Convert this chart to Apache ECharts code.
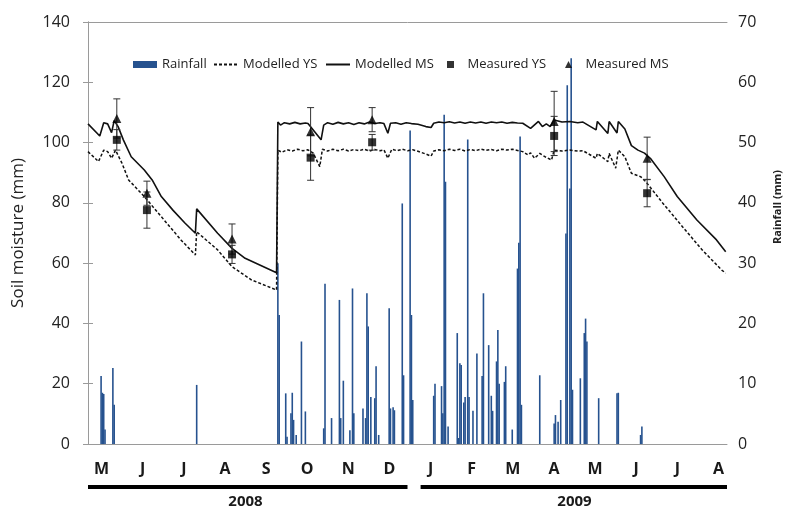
<!DOCTYPE html>
<html>
<head>
<meta charset="utf-8">
<script src="https://cdn.jsdelivr.net/npm/echarts@6/dist/echarts.min.js"></script>
<style>
html,body{margin:0;padding:0;background:#fff;}
#c{width:791px;height:509px;}
</style>
</head>
<body>
<div id="c"></div>
<script>
// ---------- DATA (day index 0 = start of May 2008) ----------
const months = ['M','J','J','A','S','O','N','D','J','F','M','A','M','J','J','A'];
const years = ['2008','2009'];
const yearSpans = [[0, 244], [254, 488]];
const seriesNames = ['Rainfall', 'Modelled YS', 'Modelled MS', 'Measured YS', 'Measured MS'];

const rainDays = [10,11,12,13,19,20,83,
  145,146,151,152,155,156,157,159,163,166,
  180,181,186,192,193,195,200,202,203,
  210,212,213,214,216,219,220,222,
  230,231,233,234,240,241,246,247,248,
  264,265,270,271,272,273,275,
  282,283,284,285,287,288,290,291,294,297,
  301,302,306,308,309,312,313,314,318,319,324,
  328,329,330,331,345,
  356,357,359,361,365,366,368,369,370,
  376,379,380,381,390,404,405,422,423];
const rainMm = [11.3,8.5,8.3,2.4,12.6,6.5,9.8,
  30,21.4,8.4,1.2,5.1,8.5,4,1.5,17,5.4,
  2.6,26.6,4.3,23.9,4.3,10.5,2.3,25.8,5.1,
  5.9,4.3,25,19.5,7.8,7.6,12.9,1.5,
  22.5,5.9,6.1,5.6,39.9,11.4,52,21.4,7.3,
  8,10,9.6,5.1,54.6,43.5,2.9,
  18.4,1,13.4,13.1,6.9,7.8,50.5,7.8,5.5,15,
  11.3,25,16.4,8,5.5,13.7,18.9,10,10.3,12.9,2.4,
  29.1,33.4,51,6.5,11.4,
  3.4,4.8,3.7,7.3,34.9,59.5,42.4,64,9,
  10.9,18.4,20.8,17,7.6,8.4,8.5,1.5,2.9];

const msDays = [0,9,12,15,18,20,23,27,33,43,49,56,65,74,82,83,99,110,120,144,145,
  147,150,154,158,162,166,168,178,180,183,187,191,195,199,203,207,211,215,219,223,226,229,231,235,239,243,247,252,258,262,264,268,272,276,280,284,288,292,296,300,304,308,312,316,320,324,328,332,338,344,347,350,353,356,362,368,374,378,388,389,397,398,404,405,410,415,420,425,430,440,450,465,480,487];
const msVals = [106.2,102.2,106.6,106.2,103.3,107.3,105.3,100.9,95.3,90.9,87.6,82.1,77.5,73.3,69.9,78,69.9,64.9,61.6,56.8,106.8,
  105.8,106.6,106.2,106.7,106.2,106.5,106.3,100.9,105.8,106.6,106.1,106.7,106.2,106.6,106,106.6,106.2,106.8,106.3,106.6,106.3,103.1,106.4,106.6,106.1,106.6,106.3,106.1,105.3,105.0,106.4,106.8,106.6,106.9,106.5,106.8,106.4,106.8,106.5,106.8,106.4,106.8,106.6,106.8,106.4,106.7,106.5,106.4,104.7,107,105.3,106.2,105.3,107.5,106.8,107,106.6,106.8,104.2,107,103,107,103.2,107,104.5,99,97.5,96.5,94.5,88.7,82.1,74.3,67.7,63.8];

const ysDays = [0,8,12,15,18,21,26,31,43,56,71,82,83,99,110,125,144,145,
  148,152,156,160,164,168,172,177,179,183,187,191,195,199,203,207,211,215,219,223,226,229,232,236,240,244,248,252,258,262,264,268,272,276,280,284,288,292,296,300,304,308,312,316,320,324,328,332,336,338,341,345,349,354,356,362,368,374,378,388,389,397,398,403,405,410,415,422,426,439,454,469,484,487];
const ysVals = [97,93.7,97.5,97,94.8,97.5,93.1,87.6,82.1,75.4,67.7,62.7,70.4,64.4,58.8,54.4,51.1,97.5,
  96.8,97.6,97.2,97.8,97.3,97.6,96.5,92,97.8,97.2,97.8,97.3,97.8,97.2,97.7,97.3,97.8,97.2,97.7,97.3,97.6,94.8,97.8,97.3,97.8,97.3,97.6,97.1,96.2,95.5,97.2,97.6,97.3,97.8,97.4,97.8,97.2,97.7,97.3,97.8,97.4,97.7,97.3,97.8,97.5,97.8,97.4,97,95.9,96.6,94.8,96.4,95.3,94.2,97.5,97.2,97.5,97.2,97.3,94.8,96.4,93.7,96.4,91.5,97.5,95.3,89.8,88.7,87,79.9,72.1,64.4,57.7,56.7];

const measDays = [22,45,110,170,217,356,427];
const measYS = [100.9,77.6,62.9,95,100.1,102.2,83.2];
const measYSErr = [3.4,6,3,7.5,2.6,6.5,4.5];
const measMS = [108,83.2,68,103.6,107.6,107,94.8];
const measMSErr = [6.5,4,5,8,4,10,7];

// ---------- BUILD ----------
const FONT = '"Open Sans", "DejaVu Sans", sans-serif';
const zip = (a, b) => a.map((v, i) => [v, b[i]]);
const errData = [];
measDays.forEach((d, i) => {
  errData.push([d, measYS[i] - measYSErr[i], measYS[i] + measYSErr[i]]);
  errData.push([d, measMS[i] - measMSErr[i], measMS[i] + measMSErr[i]]);
});
const AX = '#9a9a9a';

// one legend per entry so the spacing matches the original figure
const legendLeft = [133, 213, 325, 447, 565];
const legendIcon = ['rect', null, null, 'path://M0,0L10,0L10,10L0,10Z', 'path://M5,0L10,10L0,10Z'];
const legends = seriesNames.map((n, i) => {
  const item = {name: n};
  if (legendIcon[i]) item.icon = legendIcon[i];
  else item.itemStyle = {opacity: 0};
  return {
    left: legendLeft[i], top: 58, padding: 0,
    itemWidth: 24, itemHeight: 7, itemGap: 0,
    textStyle: {fontSize: 13, color: '#222', fontFamily: FONT},
    data: [item]
  };
});

const chart = echarts.init(document.getElementById('c'), null, {renderer: 'canvas'});
chart.setOption({
  animation: false,
  backgroundColor: '#fff',
  textStyle: {fontFamily: FONT},
  grid: [
    {left: 88, right: 64, top: 22, bottom: 65},
    {left: 81, right: 52, top: 22, bottom: 65}
  ],
  legend: legends,
  xAxis: [
    {type: 'value', gridIndex: 0, min: 0, max: 488, position: 'bottom',
      axisLine: {show: true, onZero: false, lineStyle: {color: AX}},
      axisTick: {show: false}, axisLabel: {show: false}, splitLine: {show: false}},
    {type: 'category', gridIndex: 1, data: months, boundaryGap: true, position: 'bottom',
      axisLine: {show: false}, axisTick: {show: false},
      axisLabel: {fontSize: 16, fontWeight: 'bold', color: '#1a1a1a', margin: 17, interval: 0, fontFamily: FONT}},
    {type: 'category', gridIndex: 1, data: years, boundaryGap: true, position: 'bottom', offset: 0,
      axisLine: {show: false}, axisTick: {show: false},
      axisLabel: {fontSize: 15, fontWeight: 'bold', color: '#1a1a1a', margin: 50, interval: 0, fontFamily: FONT}},
    {type: 'value', gridIndex: 0, min: 0, max: 488, position: 'top',
      axisLine: {show: true, onZero: false, lineStyle: {color: AX}},
      axisTick: {show: false}, axisLabel: {show: false}, splitLine: {show: false}}
  ],
  yAxis: [
    {type: 'value', gridIndex: 0, min: 0, max: 140, interval: 20, position: 'left',
      name: 'Soil moisture (mm)', nameLocation: 'middle', nameGap: 61, nameRotate: 90,
      nameTextStyle: {fontSize: 17, color: '#222', fontFamily: FONT},
      axisLine: {show: true, lineStyle: {color: AX}},
      axisTick: {show: true, length: 5, lineStyle: {color: AX}},
      axisLabel: {fontSize: 16, color: '#222', margin: 18, fontFamily: FONT},
      splitLine: {show: false}},
    {type: 'value', gridIndex: 0, min: 0, max: 70, interval: 10, position: 'right',
      name: 'Rainfall (mm)', nameLocation: 'middle', nameGap: 45, nameRotate: 90,
      nameTextStyle: {fontSize: 11, fontWeight: 'bold', color: '#222', fontFamily: FONT, padding: [0, 0, 0, 52]},
      axisLine: {show: true, lineStyle: {color: AX}},
      axisTick: {show: true, length: 5, lineStyle: {color: AX}},
      axisLabel: {fontSize: 16, color: '#222', margin: 11, fontFamily: FONT},
      splitLine: {show: false}},
    {type: 'value', gridIndex: 1, show: false, min: 0, max: 1}
  ],
  series: [
    {name: seriesNames[0], type: 'bar', xAxisIndex: 0, yAxisIndex: 1,
      data: zip(rainDays, rainMm), barWidth: 1.6, z: 1,
      itemStyle: {color: '#26528f'}},
    {name: seriesNames[1], type: 'line', xAxisIndex: 0, yAxisIndex: 0,
      data: zip(ysDays, ysVals), symbol: 'none', showSymbol: false, z: 3,
      lineStyle: {color: '#111', width: 1.5, type: [3, 2]}, itemStyle: {color: '#111'}},
    {name: seriesNames[2], type: 'line', xAxisIndex: 0, yAxisIndex: 0,
      data: zip(msDays, msVals), symbol: 'none', showSymbol: false, z: 3,
      lineStyle: {color: '#111', width: 1.6}, itemStyle: {color: '#111'}},
    {name: 'errorbars', type: 'custom', xAxisIndex: 0, yAxisIndex: 0, z: 4,
      data: errData,
      renderItem: function (params, api) {
        const x = api.value(0);
        const lo = api.coord([x, api.value(1)]);
        const hi = api.coord([x, api.value(2)]);
        const w = 3.5;
        const st = {stroke: '#333', lineWidth: 1};
        return {type: 'group', children: [
          {type: 'line', shape: {x1: lo[0], y1: lo[1], x2: hi[0], y2: hi[1]}, style: st},
          {type: 'line', shape: {x1: lo[0] - w, y1: lo[1], x2: lo[0] + w, y2: lo[1]}, style: st},
          {type: 'line', shape: {x1: hi[0] - w, y1: hi[1], x2: hi[0] + w, y2: hi[1]}, style: st}
        ]};
      }},
    {name: seriesNames[3], type: 'scatter', xAxisIndex: 0, yAxisIndex: 0, z: 5,
      data: zip(measDays, measYS), symbol: 'rect', symbolSize: 8,
      itemStyle: {color: '#000'}},
    {name: seriesNames[4], type: 'scatter', xAxisIndex: 0, yAxisIndex: 0, z: 5,
      data: zip(measDays, measMS), symbol: 'triangle', symbolSize: 9,
      itemStyle: {color: '#000'}}
  ]
});

// year underline bars, positioned through the day axis
const y0 = chart.convertToPixel({yAxisIndex: 0}, 0);
const lines = yearSpans.map(s => {
  const a = chart.convertToPixel({xAxisIndex: 0}, s[0]);
  const b = chart.convertToPixel({xAxisIndex: 0}, s[1]);
  return {type: 'line', shape: {x1: a, y1: y0 + 43, x2: b, y2: y0 + 43},
    style: {stroke: '#000', lineWidth: 4}, silent: true};
});
chart.setOption({graphic: lines});
</script>
</body>
</html>
